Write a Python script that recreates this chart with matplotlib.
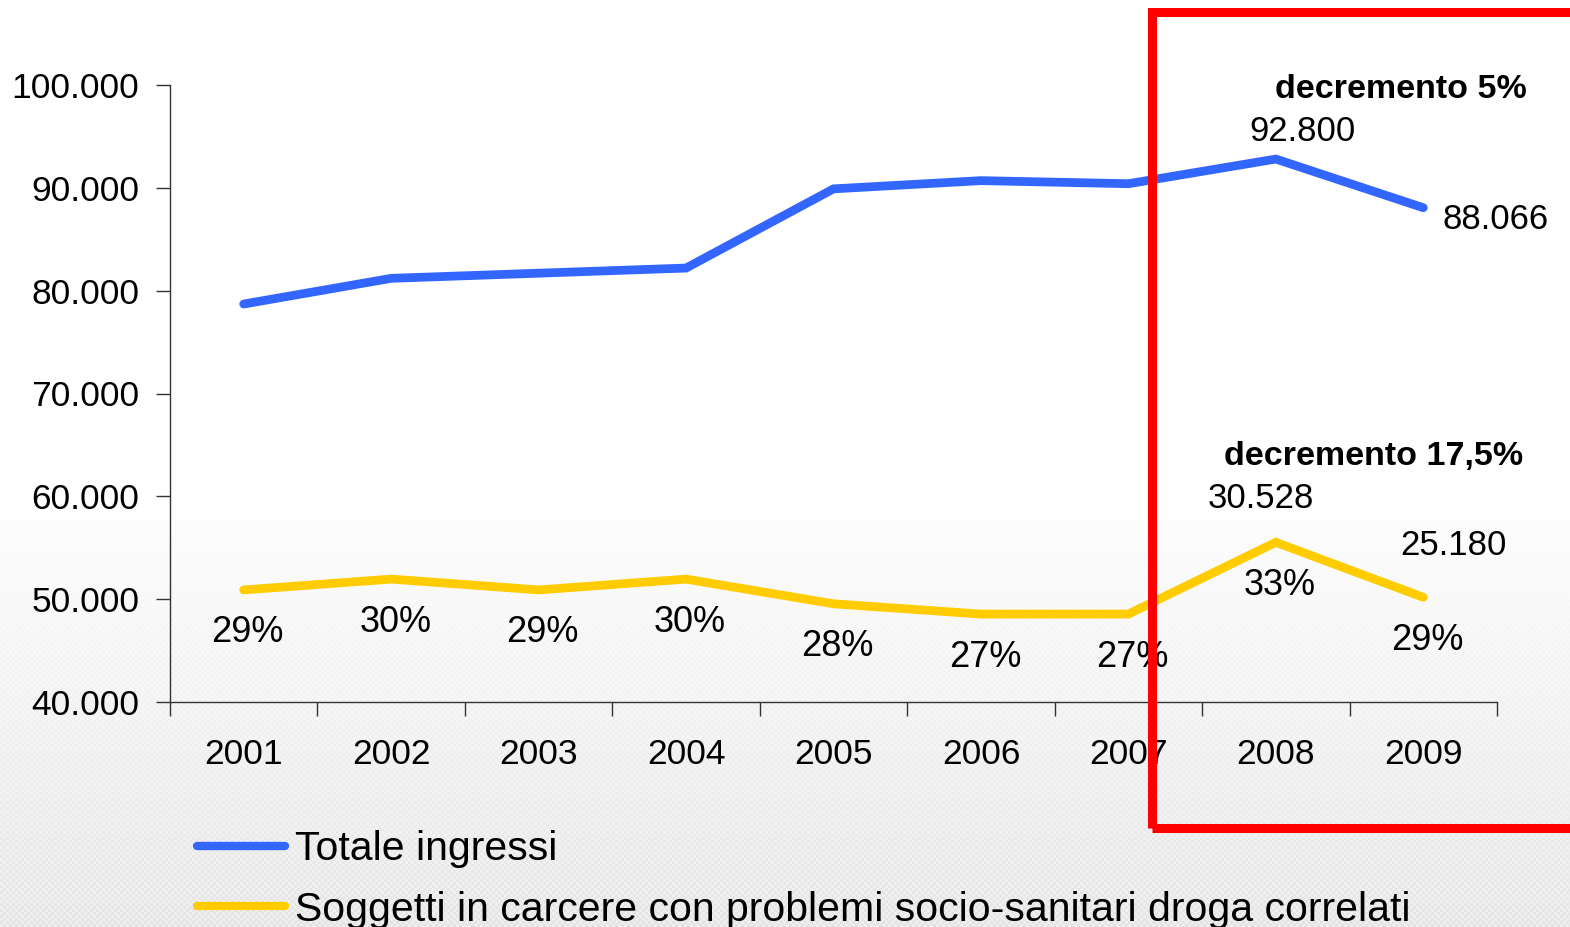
import numpy as np
import matplotlib.pyplot as plt
from matplotlib.lines import Line2D
from matplotlib.patches import Rectangle

plt.rcParams['font.family'] = ['Liberation Sans', 'DejaVu Sans']

years = ['2001', '2002', '2003', '2004', '2005', '2006', '2007', '2008', '2009']
totale_ingressi = [78700, 81200, 81700, 82200, 89900, 90700, 90400, 92800, 88066]
soggetti_droga = [25900, 26950, 25900, 26950, 24550, 23550, 23550, 30528, 25180]
quota_droga = ['29%', '30%', '29%', '30%', '28%', '27%', '27%', '33%', '29%']
y_ticks = [40000, 50000, 60000, 70000, 80000, 90000, 100000]

BLUE = '#3366ff'
YELLOW = '#ffcc00'

W, H = 1570, 927
fig = plt.figure(figsize=(W / 100, H / 100), dpi=100)

# page background: white on top, faint grey checker fading in towards the bottom
rows, cols = np.mgrid[0:H, 0:W]
t = np.clip((rows - 520) / (H - 520), 0, 1)
checker = ((rows // 3 + cols // 3) % 2) * 2 - 1
shade = 1 - 0.075 * t - 0.02 * t * checker - 0.012 * (rows >= 520)
bg = fig.add_axes([0, 0, 1, 1], zorder=-10)
bg.imshow(shade, cmap='gray', vmin=0, vmax=1, extent=[0, 1, 0, 1],
          aspect='auto', interpolation='nearest')
bg.axis('off')

ax = fig.add_axes([170 / W, 225 / H, 1327 / W, 617 / H])
ax.patch.set_visible(False)
x = np.arange(1, len(years) + 1)

ax.plot(x, totale_ingressi, color=BLUE, lw=6.3, solid_capstyle='round',
        solid_joinstyle='miter', zorder=3)
ax.set_xlim(0.5, len(years) + 0.5)
ax.set_ylim(40000, 100000)

ax.set_yticks(y_ticks)
ax.set_yticklabels([f'{v:,.0f}'.replace(',', '.') for v in y_ticks])
ax.set_xticks(np.arange(0.5, len(years) + 1, 1))
ax.set_xticklabels([])
ax.set_xticks(x, minor=True)
ax.set_xticklabels(years, minor=True)
ax.tick_params(axis='both', which='major', length=10, width=1, color='#333333',
               labelsize=25.5, direction='out')
ax.tick_params(axis='y', pad=12)
ax.tick_params(axis='x', which='minor', length=0, labelsize=25.5, pad=26)
for side in ('top', 'right'):
    ax.spines[side].set_visible(False)
for side in ('left', 'bottom'):
    ax.spines[side].set_color('#333333')
    ax.spines[side].set_linewidth(1)

# drug-related subjects run on their own hidden scale
ax2 = ax.twinx()
ax2.set_ylim(15000, 75000)
ax2.axis('off')
ax2.plot(x, soggetti_droga, color=YELLOW, lw=6.3, solid_capstyle='round',
         solid_joinstyle='miter', zorder=3)

for xi, yi, lab in zip(x, soggetti_droga, quota_droga):
    ax2.annotate(lab, (xi, yi), xytext=(4, -43), textcoords='offset pixels',
                 ha='center', va='center', fontsize=26)

ax.annotate(f'{totale_ingressi[7]:,}'.replace(',', '.'), (x[7], totale_ingressi[7]),
            xytext=(27, 28), textcoords='offset pixels', ha='center', va='center',
            fontsize=25)
ax.annotate(f'{totale_ingressi[8]:,}'.replace(',', '.'), (x[8], totale_ingressi[8]),
            xytext=(72, -12), textcoords='offset pixels', ha='center', va='center',
            fontsize=25)
ax.annotate('decremento 5%', (x[7], totale_ingressi[7]), xytext=(125, 70),
            textcoords='offset pixels', ha='center', va='center', fontsize=24.5,
            fontweight='bold')

ax2.annotate(f'{soggetti_droga[7]:,}'.replace(',', '.'), (x[7], soggetti_droga[7]),
             xytext=(-15, 44), textcoords='offset pixels', ha='center', va='center',
             fontsize=25)
ax2.annotate(f'{soggetti_droga[8]:,}'.replace(',', '.'), (x[8], soggetti_droga[8]),
             xytext=(30, 52), textcoords='offset pixels', ha='center', va='center',
             fontsize=25)
ax2.annotate('decremento 17,5%', (x[7], soggetti_droga[7]), xytext=(98, 86),
             textcoords='offset pixels', ha='center', va='center', fontsize=24.5,
             fontweight='bold')

handles = [Line2D([], [], color=BLUE, lw=6, solid_capstyle='round'),
           Line2D([], [], color=YELLOW, lw=6, solid_capstyle='round')]
fig.legend(handles, ['Totale ingressi',
                     'Soggetti in carcere con problemi socio-sanitari droga correlati'],
           loc='upper left', bbox_to_anchor=(197 / W, 1 - 830 / H), frameon=False,
           fontsize=29.5, handlelength=2.15, handletextpad=0.24, labelspacing=0.55,
           borderpad=0, borderaxespad=0)

# highlight box around the last two years
fig.patches.append(Rectangle((1152 / W, 1 - 828 / H), 0.3, (828 - 12) / H,
                             transform=fig.transFigure, fill=False,
                             edgecolor='#ff0000', lw=6.5, zorder=10))

fig.savefig('out.png', dpi=100)
